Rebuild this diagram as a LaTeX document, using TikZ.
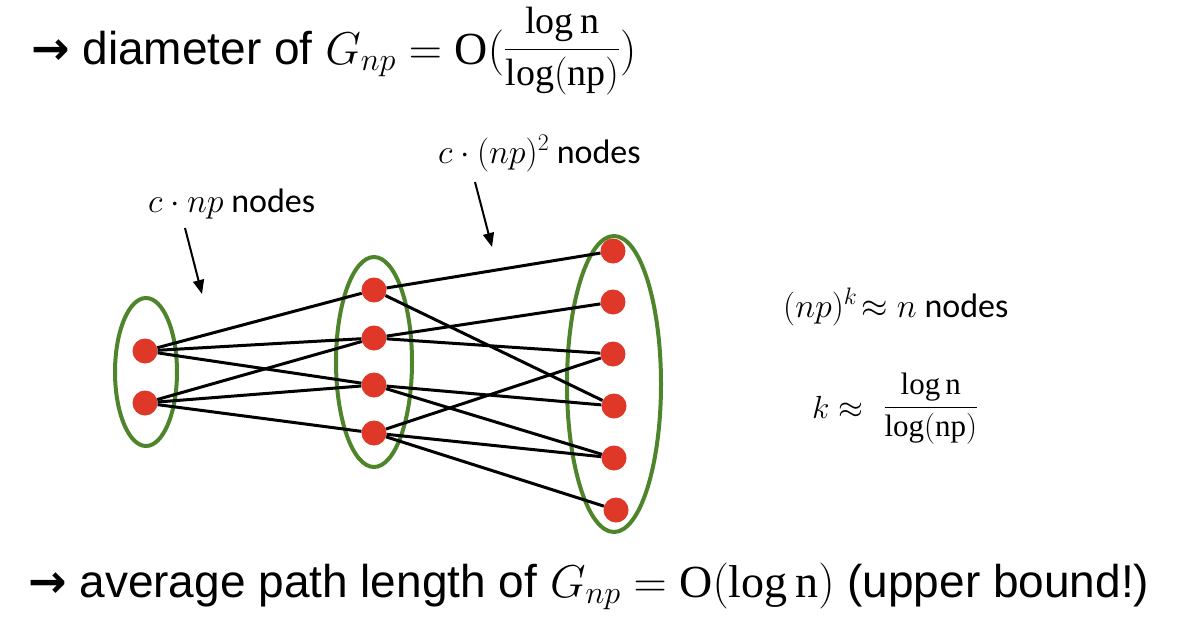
\RequirePackage{fix-cm}
\documentclass[tikz,border=0pt]{standalone}
\usepackage{fontspec}
\setmainfont{Liberation Serif}
\newfontfamily\arialf{Liberation Sans}
\newfontfamily\calibrif{Carlito}
\newfontfamily\dejavuf{DejaVu Sans}
\usetikzlibrary{shapes.geometric,arrows.meta}
\definecolor{nodered}{RGB}{224,56,40}
\definecolor{ringgreen}{RGB}{78,132,42}
\newcommand{\bigarrow}{{\dejavuf\bfseries →}}
\newcommand{\logfrac}[2]{\raisebox{#2}{\fontsize{#1}{#1}\selectfont$\displaystyle\frac{\log \mathrm{n}}{\log(\mathrm{np})}$}}
\begin{document}
\begin{tikzpicture}[x=1pt,y=-1pt,
  vert/.style={circle,fill=nodered,minimum size=25pt,inner sep=0pt},
  ring/.style={ellipse,draw=ringgreen,line width=4pt,inner sep=0pt},
  edge/.style={line width=3pt,black},
  pointer/.style={line width=2pt,-{Triangle[length=14pt,width=11pt]}},
  lbl/.style={font=\calibrif\fontsize{34}{40}\selectfont,anchor=base west,inner sep=0pt},
  big/.style={font=\arialf\fontsize{46}{55}\selectfont,anchor=base west,inner sep=0pt}]
\useasboundingbox[fill=white] (0,0) rectangle (1191,642);
% groups
\node[ring,minimum width=62pt,minimum height=148pt] (g1) at (146,372) {};
\node[ring,minimum width=76pt,minimum height=210pt] (g2) at (374,362) {};
\node[ring,minimum width=94pt,minimum height=296pt] (g3) at (614,384) {};
% vertices
\node[vert] (L1) at (145,351) {};
\node[vert] (L2) at (145,403) {};
\node[vert] (M1) at (374,290) {};
\node[vert] (M2) at (374,338) {};
\node[vert] (M3) at (374,385) {};
\node[vert] (M4) at (374,433) {};
\node[vert] (R1) at (613,251) {};
\node[vert] (R2) at (613,302) {};
\node[vert] (R3) at (613,354) {};
\node[vert] (R4) at (614,406) {};
\node[vert] (R5) at (614,458) {};
\node[vert] (R6) at (616,510) {};
% edges
\draw[edge] (L1) -- (M1);
\draw[edge] (L1) -- (M2);
\draw[edge] (L1) -- (M3);
\draw[edge] (L2) -- (M2);
\draw[edge] (L2) -- (M3);
\draw[edge] (L2) -- (M4);
\draw[edge] (M1) -- (R1);
\draw[edge] (M1) -- (R4);
\draw[edge] (M2) -- (R2);
\draw[edge] (M2) -- (R3);
\draw[edge] (M3) -- (R4);
\draw[edge] (M3) -- (R5);
\draw[edge] (M4) -- (R3);
\draw[edge] (M4) -- (R5);
\draw[edge] (M4) -- (R6);
% labels
\node[lbl] (t1) at (148,212) {$c\cdot np$ nodes};
\node[lbl] (t2) at (438,163) {$c\cdot (np)^2$ nodes};
\node[lbl] (t3) at (783,317) {$(np)^k\!\approx n$ nodes};
\node[lbl,font=\calibrif\fontsize{32}{38}\selectfont] (t4) at (812,418) {$k \approx$\hspace{20pt}\logfrac{31}{3pt}};
% pointers
\coordinate (p1s) at (185,228); \coordinate (p1e) at (202,294);
\coordinate (p2s) at (475,182); \coordinate (p2e) at (492,247);
\draw[pointer] (p1s) -- (p1e);
\draw[pointer] (p2s) -- (p2e);
% headline and footline
\node[big] (top) at (31,64) {\bigarrow\ diameter of $G_{np} = \mathrm{O}($\logfrac{38}{5pt}$)$};
\node[big] (bot) at (28,597) {\bigarrow\ average path length of $G_{np} = \mathrm{O}(\log \mathrm{n})$ (upper bound!)};
\end{tikzpicture}
\end{document}
